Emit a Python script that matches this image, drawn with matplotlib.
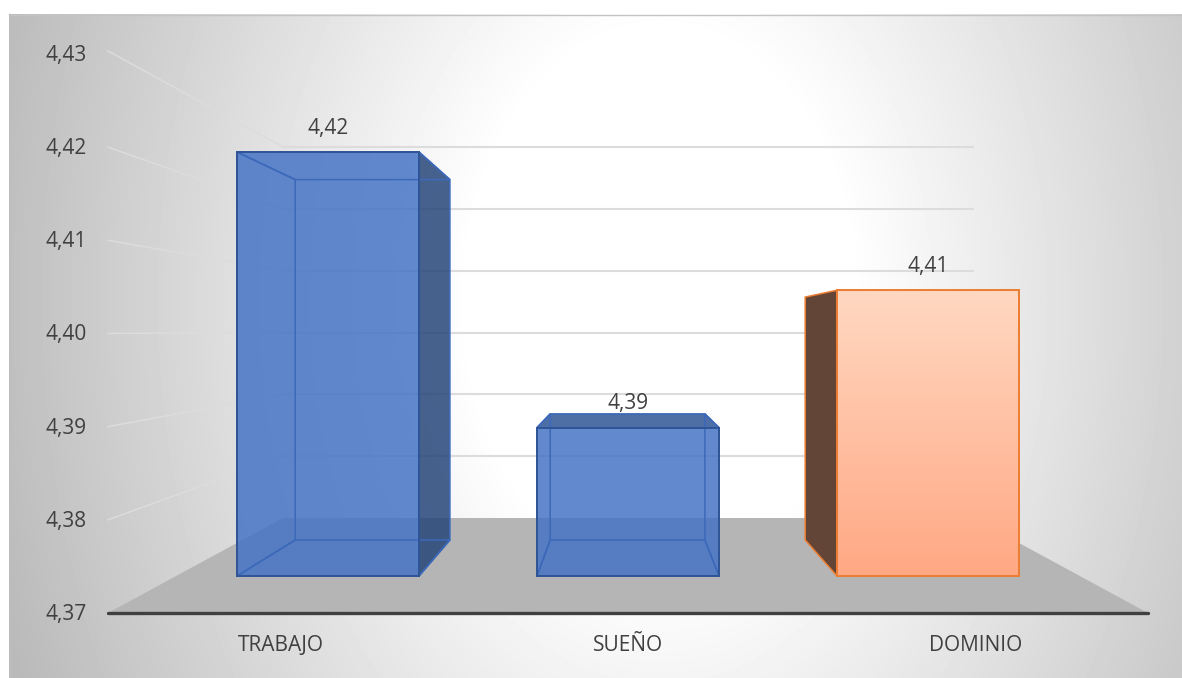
from __future__ import annotations

import matplotlib

matplotlib.use("Agg")

import matplotlib.pyplot as plt
import numpy as np
from matplotlib.patches import Polygon

WIDTH_PX = 1182
HEIGHT_PX = 678
DPI = 100

categories = ["TRABAJO", "SUEÑO", "DOMINIO"]
# bar heights as drawn in the picture; labels are the chart's own rounded text
bar_values = [4.42, 4.3875, 4.4037]
value_labels = ["4,42", "4,39", "4,41"]
tick_values = [4.37, 4.38, 4.39, 4.40, 4.41, 4.42, 4.43]
tick_labels = ["4,37", "4,38", "4,39", "4,40", "4,41", "4,42", "4,43"]

BASE = tick_values[0]
TEXT = "#404040"
FONT = "Open Sans"


def wall_front_y(value):
    return 613 - (value - BASE) * 9317


def wall_back_y(value):
    return 518 - (value - BASE) * 6183


def bar_front_y(value):
    return 576 - (value - BASE) * 8480


def to_back(x, y):
    # push a point of the bars' front plane to their back plane
    return 625 + (x - 625) * 0.85, 336 + (y - 336) * 0.85


def background():
    yy, xx = np.mgrid[14:HEIGHT_PX, 9:WIDTH_PX]
    dist = np.sqrt(((xx - 660) / 640) ** 2 + ((yy - 300) / 900) ** 2)
    shade = np.clip((dist - 0.3) / 0.78, 0, 1)
    return 1 - shade * 0.27


figure = plt.figure(figsize=(WIDTH_PX / DPI, HEIGHT_PX / DPI), dpi=DPI, facecolor="white")
axis = figure.add_axes([0, 0, 1, 1])
axis.set_axis_off()

axis.imshow(
    background(),
    cmap="gray",
    vmin=0,
    vmax=1,
    extent=(9, WIDTH_PX, HEIGHT_PX, 14),
    aspect="auto",
    zorder=0,
)
axis.plot([9, WIDTH_PX], [14.5, 14.5], color="#c4c4c4", lw=1, zorder=0.5)
axis.plot([9.5, 9.5], [14, HEIGHT_PX], color="#bdbdbd", lw=1, zorder=0.5)

# floor
axis.add_patch(
    Polygon(
        [(108, 613), (283, wall_back_y(BASE)), (973, wall_back_y(BASE)), (1148, 613)],
        facecolor="#b5b5b5",
        edgecolor="none",
        zorder=1,
    )
)

# gridlines, on the left wall and the back wall
for value in tick_values[1:]:
    axis.plot(
        [108, 283],
        [wall_front_y(value) - (3 if value == tick_values[-1] else 0), wall_back_y(value)],
        color="#dcdcdc",
        lw=1.1,
        zorder=2,
    )
    axis.plot([283, 973], [wall_back_y(value)] * 2, color="#dcdcdc", lw=1.5, zorder=2)

axis.plot([108, 1148], [613, 613], color="#404040", lw=2.4, solid_capstyle="round", zorder=3)

for label, value in zip(tick_labels, tick_values):
    axis.text(66, wall_front_y(value) + 1.5, label, ha="center", va="center",
              fontsize=15, color=TEXT, family=FONT, zorder=9)

for index, (name, value, label) in enumerate(zip(categories, bar_values, value_labels)):
    left = 237 + 300 * index
    right = left + 182
    top = bar_front_y(value)
    bottom = bar_front_y(BASE)

    front = [(left, top), (right, top), (right, bottom), (left, bottom)]
    back = [to_back(x, y) for x, y in front]
    faces = {
        "top": [front[0], front[1], back[1], back[0]],
        "right": [front[1], front[2], back[2], back[1]],
        "bottom": [front[2], front[3], back[3], back[2]],
        "left": [front[3], front[0], back[0], back[3]],
    }

    if name == "DOMINIO":
        axis.add_patch(
            Polygon(faces["left"], facecolor="#634537", edgecolor="#ed7d31", lw=1.1, zorder=4)
        )
        gradient = np.linspace(0, 1, 256).reshape(-1, 1, 1)
        colors = np.array([255, 216, 193]) + gradient * (np.array([255, 168, 132]) - np.array([255, 216, 193]))
        axis.imshow(colors / 255, extent=(left, right, bottom, top), aspect="auto", zorder=5)
        axis.add_patch(Polygon(front, facecolor="none", edgecolor="#ed7d31", lw=1.4, zorder=6))
    else:
        # faces standing out of the front rectangle read darker
        outside = {
            "top": back[0][1] < top,
            "right": back[1][0] > right,
            "bottom": back[2][1] > bottom,
            "left": back[0][0] < left,
        }
        for side, points in faces.items():
            if outside[side]:
                shade = "#2f5597" if side == "top" else "#27467a"
                axis.add_patch(
                    Polygon(points, facecolor=shade, alpha=0.85, edgecolor="none", zorder=4.5)
                )
            axis.add_patch(
                Polygon(points, facecolor="none", edgecolor="#3c69ba", lw=1.1, zorder=6)
            )
        axis.add_patch(Polygon(front, facecolor="#4472c4", alpha=0.84, edgecolor="none", zorder=5))
        axis.add_patch(Polygon(front, facecolor="none", edgecolor="#2f5597", lw=1.4, zorder=6.5))

    axis.text((left + right) / 2, top - 24, label, ha="center", va="center",
              fontsize=15, color=TEXT, family=FONT, zorder=9)
    axis.text(628 + 347.5 * (index - 1), 645.5, name, ha="center", va="center",
              fontsize=15, color=TEXT, family=FONT, zorder=9)

axis.set_xlim(0, WIDTH_PX)
axis.set_ylim(HEIGHT_PX, 0)

figure.savefig("out.png", dpi=DPI, facecolor="white")
plt.close(figure)
